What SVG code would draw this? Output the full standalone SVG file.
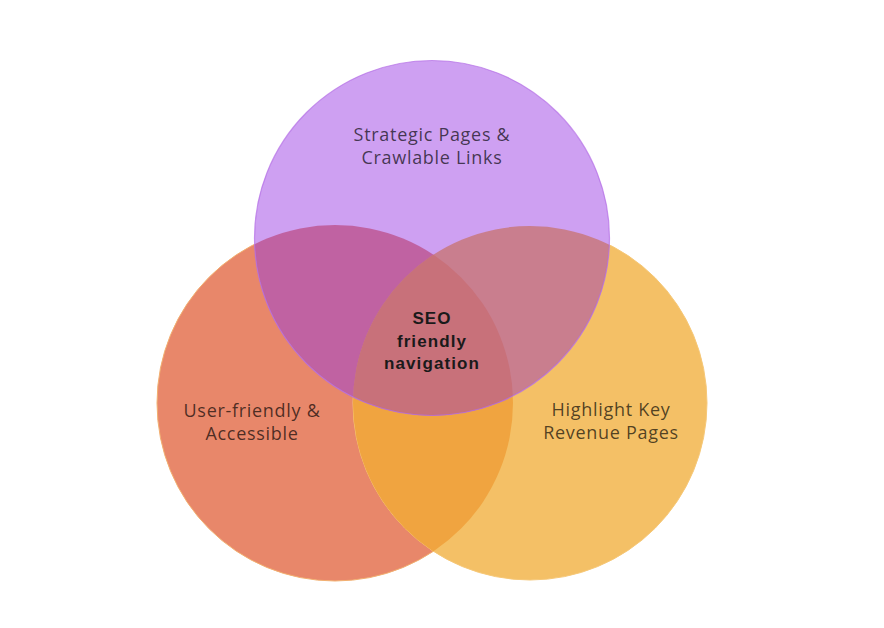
<svg xmlns="http://www.w3.org/2000/svg" width="884" height="628" viewBox="0 0 884 628">
<style>
.lbl{font-family:"Open Sans",Lato,"Liberation Sans",sans-serif;font-size:18px;fill:#000;fill-opacity:0.68;text-anchor:middle;letter-spacing:0.7px}
.ctr{font-family:"Liberation Sans",Arial,sans-serif;font-size:17px;font-weight:bold;fill:#1a1a1a;text-anchor:middle;letter-spacing:1.1px}
</style>
<defs>
<clipPath id="cB"><circle cx="335" cy="403" r="178"/></clipPath>
<clipPath id="cC"><circle cx="530" cy="403" r="177"/></clipPath>
<clipPath id="cA"><circle cx="432" cy="238" r="177.5"/></clipPath>
</defs>
<rect width="884" height="628" fill="#ffffff"/>
<g id="node-left">
<circle cx="335" cy="403" r="178" fill="#e8876a" stroke="#f2b070" stroke-width="1"/>
</g>
<g id="node-right">
<circle cx="530" cy="403" r="177" fill="#f4c066" stroke="#f6c878" stroke-width="1"/>
<circle cx="530" cy="403" r="177" fill="#f0a440" clip-path="url(#cB)"/>
</g>
<g id="node-top">
<circle cx="432" cy="238" r="177.5" fill="#cea0f2"/>
<g clip-path="url(#cA)">
<circle cx="335" cy="403" r="178" fill="#c062a2"/>
<circle cx="530" cy="403" r="177" fill="#c97e8e"/>
<g clip-path="url(#cB)"><circle cx="530" cy="403" r="177" fill="#c8717a"/></g>
</g>
<circle cx="432" cy="238" r="177.5" fill="none" stroke="#b46ee6" stroke-width="1.2" stroke-opacity="0.7"/>
</g>
<g id="labels">
<text class="lbl" x="432" y="141">Strategic Pages &amp;</text>
<text class="lbl" x="432" y="164">Crawlable Links</text>
<text class="lbl" x="252" y="417">User-friendly &amp;</text>
<text class="lbl" x="252" y="440">Accessible</text>
<text class="lbl" x="611" y="416">Highlight Key</text>
<text class="lbl" x="611" y="439">Revenue Pages</text>
</g>
<g id="node-center">
<text class="ctr" x="432" y="324">SEO</text>
<text class="ctr" x="432" y="347">friendly</text>
<text class="ctr" x="432" y="369">navigation</text>
</g>
<g id="connectors"></g>
</svg>
